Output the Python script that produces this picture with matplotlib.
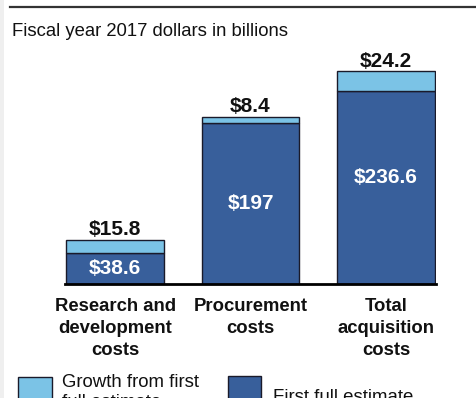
import matplotlib.pyplot as plt
from matplotlib.patches import Rectangle
from matplotlib.lines import Line2D

plt.rcParams['font.family'] = ['Liberation Sans', 'DejaVu Sans']

categories = ['Research and\ndevelopment\ncosts', 'Procurement\ncosts', 'Total\nacquisition\ncosts']
first_estimate = [38.6, 197, 236.6]
growth = [15.8, 8.4, 24.2]
base_labels = ['$38.6', '$197', '$236.6']
growth_labels = ['$15.8', '$8.4', '$24.2']

dark_blue = '#385f9b'
light_blue = '#7bc3e6'

W, H = 477, 398
fig = plt.figure(figsize=(W / 100, H / 100), dpi=100)

# thin grey strip on the left edge and rule across the top
fig.patches.append(Rectangle((0, 0), 4 / W, 1, transform=fig.transFigure,
                             facecolor='#efefef', edgecolor='none'))
fig.lines.append(Line2D([10 / W, 1], [1 - 7 / H, 1 - 7 / H], transform=fig.transFigure,
                        color='#333333', lw=1.6))

fig.text(12 / W, 1 - 31 / H, 'Fiscal year 2017 dollars in billions',
         fontsize=13.3, va='center', ha='left', color='#111111')

ax = fig.add_axes([65 / W, 114 / H, 371 / W, 220 / H])
x = range(len(categories))
width = 0.723
ax.bar(x, first_estimate, width, color=dark_blue, edgecolor='#1a1a2a', linewidth=1)
ax.bar(x, growth, width, bottom=first_estimate, color=light_blue,
       edgecolor='#1a1a2a', linewidth=1)

ax.set_xlim(-0.37, 2.37)
ax.set_ylim(0, 270)
for s in ['top', 'right', 'left']:
    ax.spines[s].set_visible(False)
ax.spines['bottom'].set_linewidth(2)
ax.set_yticks([])
ax.set_xticks([])

label_pos = [0.5, 0.5, 0.55]
for i in x:
    ax.text(i, first_estimate[i] * label_pos[i], base_labels[i], ha='center', va='center',
            color='white', fontsize=15, fontweight='bold')
    ax.text(i, first_estimate[i] + growth[i] + 0.5, growth_labels[i], ha='center',
            va='bottom', color='#111111', fontsize=15, fontweight='bold')
    ax.text(i, -17, categories[i], ha='center', va='top', color='#111111',
            fontsize=13.3, fontweight='bold', linespacing=1.38)

# legend keys, running off the bottom edge
fig.patches.append(Rectangle((18 / W, 1 - 410 / H), 34 / W, 33 / H, transform=fig.transFigure,
                             facecolor=light_blue, edgecolor='#1a1a2a', lw=1))
fig.patches.append(Rectangle((228 / W, 1 - 410 / H), 33 / W, 34 / H, transform=fig.transFigure,
                             facecolor=dark_blue, edgecolor='#1a1a2a', lw=1))
fig.text(62 / W, 1 - 374 / H, 'Growth from first\nfull estimate', fontsize=13.4,
         va='top', ha='left', color='#111111', linespacing=1.25)
fig.text(273 / W, 1 - 398 / H, 'First full estimate', fontsize=13.4,
         va='center', ha='left', color='#111111')

fig.savefig('out.png', dpi=100)
